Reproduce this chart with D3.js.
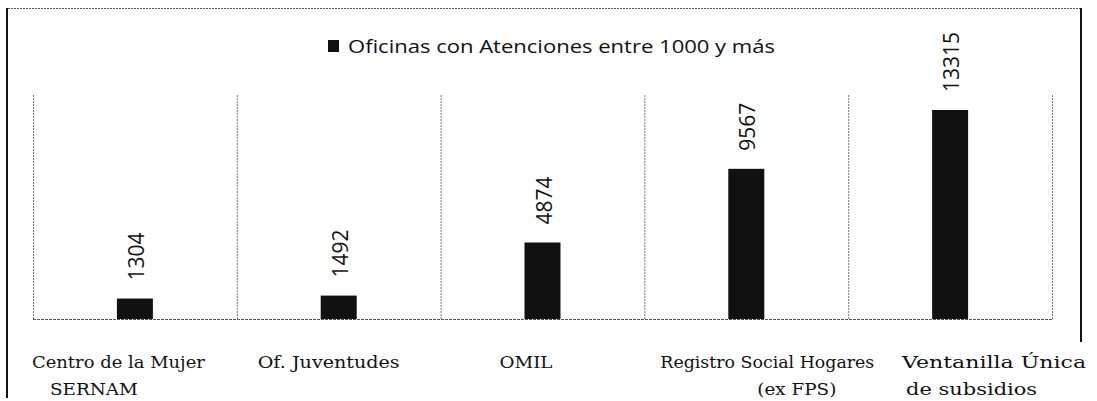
<!DOCTYPE html>
<html><head><meta charset="utf-8">
<script src="https://cdn.jsdelivr.net/npm/d3@7"></script>
<style>html,body{margin:0;padding:0;background:#fff;}svg{display:block;}</style>
</head><body>
<script>
// ---- data ----
const categories = ["Centro de la Mujer SERNAM", "Of. Juventudes", "OMIL", "Registro Social Hogares (ex FPS)", "Ventanilla Única de subsidios"];
const labelLines = [["Centro de la Mujer", "SERNAM"], ["Of. Juventudes"], ["OMIL"], ["Registro Social Hogares", "(ex FPS)"], ["Ventanilla Única", "de subsidios"]];
const values = [1304, 1492, 4874, 9567, 13315];
const seriesName = "Oficinas con Atenciones entre 1000 y más";

// ---- layout (styling, not data) ----
const W = 1097, H = 401;
const plot = {left: 33, right: 1052, top: 95, bottom: 319};
const labelOffsets = [[-103, -85], [-81], [-43], [-86, 11], [-48, -44]]; // x offset from band center, start anchor
const labelWidths = [[173, 88], [142], [53], [214, 79], [184, 131]];

const svg = d3.select("body").append("svg").attr("width", W).attr("height", H);

const x = d3.scaleBand().domain(categories).range([plot.left, plot.right]).paddingInner(0).paddingOuter(0);
const y = d3.scaleLinear().domain([0, 14270]).range([plot.bottom, plot.top]);
const barW = 36;

// frame
svg.append("line").attr("x1", 8).attr("x2", 1082).attr("y1", 8.5).attr("y2", 8.5)
  .attr("stroke", "#555").attr("stroke-width", 1).attr("stroke-dasharray", "2,1");
svg.append("line").attr("x1", 7).attr("x2", 7).attr("y1", 8).attr("y2", 398)
  .attr("stroke", "#111").attr("stroke-width", 2);
svg.append("line").attr("x1", 1081).attr("x2", 1081).attr("y1", 8).attr("y2", 342)
  .attr("stroke", "#111").attr("stroke-width", 2);

// dividers
const divs = categories.map(c => x(c)).concat([plot.right]);
svg.selectAll("line.div").data(divs).join("line").attr("class", "div")
  .attr("x1", d => d + 0.5).attr("x2", d => d + 0.5).attr("y1", plot.top).attr("y2", plot.bottom)
  .attr("stroke", "#777").attr("stroke-width", 1).attr("stroke-dasharray", "2,1");

// baseline
svg.append("line").attr("x1", plot.left).attr("x2", plot.right).attr("y1", plot.bottom + 0.5).attr("y2", plot.bottom + 0.5)
  .attr("stroke", "#555").attr("stroke-width", 1.2).attr("stroke-dasharray", "3,1");

// bars
svg.selectAll("rect.bar").data(values).join("rect").attr("class", "bar")
  .attr("x", (d, i) => x(categories[i]) + x.bandwidth() / 2 - barW / 2)
  .attr("width", barW)
  .attr("y", d => y(d))
  .attr("height", d => y(0) - y(d))
  .attr("fill", "#111");

// value labels (rotated)
svg.selectAll("text.val").data(values).join("text").attr("class", "val")
  .attr("transform", (d, i) => `translate(${x(categories[i]) + x.bandwidth() / 2 + 1},${y(d) - 18}) rotate(-90)`)
  .attr("text-anchor", "start").attr("dominant-baseline", "central")
  .attr("font-family", "Open Sans").attr("font-size", 21).attr("fill", "#111")
  .text(d => d);

// category labels
categories.forEach((c, i) => {
  labelLines[i].forEach((line, j) => {
    svg.append("text")
      .attr("x", x(c) + x.bandwidth() / 2 + labelOffsets[i][j])
      .attr("y", 368 + j * 27)
      .attr("font-family", "DejaVu Serif").attr("font-size", 17).attr("fill", "#111")
      .attr("textLength", labelWidths[i][j]).attr("lengthAdjust", "spacingAndGlyphs")
      .text(line);
  });
});

// legend
const lg = svg.append("g");
lg.append("rect").attr("x", 328).attr("y", 40).attr("width", 11).attr("height", 12).attr("fill", "#111");
lg.append("text").attr("x", 348).attr("y", 53).attr("font-family", "Open Sans").attr("font-size", 18)
  .attr("textLength", 427).attr("lengthAdjust", "spacingAndGlyphs").attr("fill", "#111").text(seriesName);
</script>
</body></html>
